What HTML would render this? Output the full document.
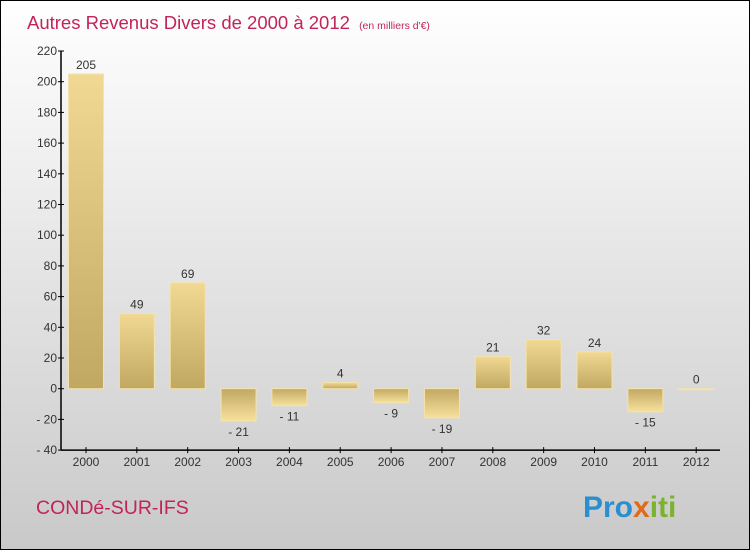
<!DOCTYPE html>
<html><head><meta charset="utf-8"><style>
body{margin:0}
svg{display:block;font-family:"Liberation Sans",sans-serif}
</style></head><body>
<svg id="c" width="750" height="550">
<defs>
<linearGradient id="bg" x1="0" y1="0" x2="0" y2="1"><stop offset="0" stop-color="#ffffff"/><stop offset="1" stop-color="#c9c9c9"/></linearGradient>
<linearGradient id="gp" x1="0" y1="0" x2="0" y2="1"><stop offset="0" stop-color="#f1d993"/><stop offset="1" stop-color="#c1a862"/></linearGradient>
<linearGradient id="gn" x1="0" y1="0" x2="0" y2="1"><stop offset="0" stop-color="#c1a862"/><stop offset="1" stop-color="#f6e19c"/></linearGradient>
</defs>
<rect x="0.5" y="0.5" width="749" height="549" fill="url(#bg)" stroke="#000"/>
<text x="27" y="29" font-size="18.5" fill="#c2245a">Autres Revenus Divers de 2000 à 2012 <tspan font-size="10.5" dx="4">(en milliers d'€)</tspan></text>
<text x="36" y="514" font-size="19.5" fill="#c2245a">CONDé-SUR-IFS</text>
<text x="583" y="517" font-size="30" font-weight="bold" fill="#2a8fd0">Pro<tspan fill="#e06a1a">x</tspan><tspan fill="#7bb32e">iti</tspan></text>
<g id="g"></g>
</svg>
<script>
const years=["2000","2001","2002","2003","2004","2005","2006","2007","2008","2009","2010","2011","2012"];
const values=[205,49,69,-21,-11,4,-9,-19,21,32,24,-15,0];
const labels=["205","49","69","-21","-11","4","-9","-19","21","32","24","-15","0"];
const ticks=[-40,-20,0,20,40,60,80,100,120,140,160,180,200,220];
const NS="http://www.w3.org/2000/svg",g=document.getElementById('g');
const y=v=>388.7-v*1.535, x=i=>86+i*50.85;
function mk(t,a){const e=document.createElementNS(NS,t);for(const k in a)e.setAttribute(k,a[k]);g.appendChild(e);return e;}
let e=mk('line',{x1:61,y1:y(220),x2:61,y2:y(-40),stroke:'#000','stroke-width':1.5});

e=mk('line',{x1:61,y1:y(-40),x2:720,y2:y(-40),stroke:'#000','stroke-width':1.5});

ticks.forEach(t=>{
 e=mk('line',{x1:58,x2:64,y1:y(t),y2:y(t),stroke:'#000'});
 
 e=mk('text',{x:57,y:y(t)+4,'text-anchor':'end','font-size':12,fill:'#333'});e.textContent=String(t).replace('-','- ');
 
});
years.forEach((yr,i)=>{
 const v=values[i],cx=x(i);
 e=mk('line',{x1:cx,x2:cx,y1:y(-40)-3,y2:y(-40)+3,stroke:'#000'});
 
 e=mk('text',{x:cx,y:y(-40)+16,'text-anchor':'middle','font-size':12,fill:'#333'});e.textContent=yr;
 
 const top=Math.min(y(v),y(0)),h=Math.max(Math.abs(y(v)-y(0)),1);
 e=mk('rect',{x:cx-17.5,y:top,width:35,height:h,fill:v>=0?'url(#gp)':'url(#gn)',stroke:'#f3e3ac','stroke-width':1});
 
 e=mk('text',{x:cx,y:v>=0?y(v)-5:y(v)+15,'text-anchor':'middle','font-size':12,fill:'#333'});e.textContent=labels[i].replace('-','- ');
 
});
</script>
</body></html>
